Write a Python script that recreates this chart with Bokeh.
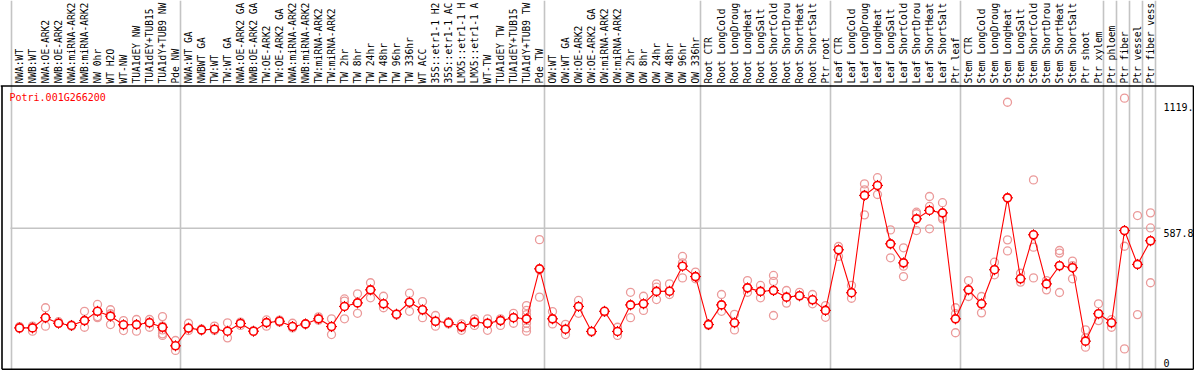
import math
from bokeh.plotting import figure
from bokeh.models import Range1d
from bokeh.core.properties import value
from bokeh.embed import file_html
from bokeh.resources import INLINE

title_text = "Potri.001G266200"

categories = [
    "NWA:WT", "NWB:WT", "NWA:OE-ARK2", "NWB:OE-ARK2", "NWA:miRNA-ARK2", "NWB:miRNA-ARK2",
    "NW 0hr", "WT H2O", "WT-NW", "TUA1dEY NW", "TUA1dEY+TUB15", "TUA1dY+TUB9 NW", "Pde NW",
    "NWA:WT GA", "NWBWT GA", "TW:WT", "TW:WT GA", "NWA:OE-ARK2 GA", "NWB:OE-ARK2 GA",
    "TW:OE-ARK2", "TW:OE-ARK2 GA", "NWA:miRNA-ARK2", "NWB:miRNA-ARK2", "TW:miRNA-ARK2",
    "TW:miRNA-ARK2", "TW 2hr", "TW 8hr", "TW 24hr", "TW 48hr", "TW 96hr", "TW 336hr",
    "WT ACC", "35S::etr1-1 H2", "35S::etr1-1 AC", "LMX5::etr1-1 H", "LMX5::etr1-1 A",
    "WT-TW", "TUA1dEY TW", "TUA1dEY+TUB15", "TUA1dY+TUB9 TW", "Pde TW",
    "OW:WT", "OW:WT GA", "OW:OE-ARK2", "OW:OE-ARK2 GA", "OW:miRNA-ARK2", "OW:miRNA-ARK2",
    "OW 2hr", "OW 8hr", "OW 24hr", "OW 48hr", "OW 96hr", "OW 336hr",
    "Root CTR", "Root LongCold", "Root LongDroug", "Root LongHeat", "Root LongSalt",
    "Root ShortCold", "Root ShortDrou", "Root ShortHeat", "Root ShortSalt", "Ptr root",
    "Leaf CTR", "Leaf LongCold", "Leaf LongDroug", "Leaf LongHeat", "Leaf LongSalt",
    "Leaf ShortCold", "Leaf ShortDrou", "Leaf ShortHeat", "Leaf ShortSalt", "Ptr leaf",
    "Stem CTR", "Stem LongCold", "Stem LongDroug", "Stem LongHeat", "Stem LongSalt",
    "Stem ShortCold", "Stem ShortDrou", "Stem ShortHeat", "Stem ShortSalt", "Ptr shoot",
    "Ptr xylem", "Ptr phloem", "Ptr fiber", "Ptr vessel", "Ptr fiber vess",
]

group_sizes = [13, 28, 12, 10, 10, 11, 1, 1, 1, 1]

means = [
    137, 137, 183, 158, 148, 170, 212, 190, 151, 152, 160, 140, 56,
    136, 128, 131, 122, 157, 122, 161, 167, 143, 155, 178, 143, 234, 250, 309, 246, 199,
    253, 219, 167, 160, 143, 163, 158, 170, 183, 178, 404,
    178, 131, 234, 121, 212, 121, 241, 246, 302, 303, 416, 369,
    152, 241, 160, 318, 302, 306, 276, 282, 264, 216,
    490, 296, 736, 781, 517, 431, 630, 668, 657, 178,
    309, 246, 400, 725, 359, 558, 336, 418, 409, 77, 201,
    160, 577, 424, 531,
]

replicates = [
    [143, 135], [145, 122], [228, 183, 145], [158, 165], [150, 145], [212, 170, 140],
    [243, 212, 188, 183], [219, 201, 152], [170, 125], [175, 122], [175, 163, 140],
    [188, 145, 128, 110, 103], [80, 35],
    [158, 125], [125, 132], [145, 125], [160, 92], [163, 148], [125, 120], [173, 145],
    [172, 163], [158, 137], [155, 152], [187, 172], [178, 107], [268, 258, 178],
    [291, 250, 203], [341, 309, 273], [280, 246, 228], [199, 195], [294, 253, 212],
    [256, 219, 183], [193, 167, 145], [165, 155], [155, 138, 126], [178, 163, 148],
    [178, 158, 126], [178, 170, 148], [203, 183, 158],
    [238, 216, 197, 178, 158, 137, 122], [536, 400, 276],
    [211, 178, 155], [153, 131, 107], [261, 234, 203], [121, 118], [212, 208], [140, 103],
    [298, 241, 183], [280, 246, 216], [336, 321, 302, 265], [336, 303, 288],
    [460, 431, 363], [389, 369, 359],
    [155, 148], [288, 241, 212], [198, 160, 128], [351, 318, 298], [329, 302, 273],
    [374, 347, 306, 193], [306, 276, 249], [298, 282], [288, 264, 246], [238, 216, 185],
    [505, 490, 460], [329, 296, 271], [788, 761, 736, 648], [816, 781, 740],
    [580, 517, 454], [499, 431, 416, 369], [660, 653, 577], [731, 686, 585],
    [703, 637, 630], [228, 201, 115],
    [351, 279], [279, 246, 205], [434, 400, 377], [1157, 725, 535, 485], [384, 359, 344],
    [806, 558, 502, 363], [351, 336, 309], [487, 475, 418, 297], [439, 418, 409, 359],
    [128, 92, 77, 50], [246, 201, 170],
    [174, 160, 140], [1175.6, 577, 506, 42], [645, 424, 197], [657, 589, 531, 341],
]

grid_value = 587.8
tick_labels = ["1119.", "587.8", "0"]

# ---- layout constants (screen pixels -> data coordinates) ----
X0, BAND, Y0, K = 11.0, 13.0, 357.7, 0.2212
OFF = 8.0 / 13.0


def px2x(px):
    return (px - X0) / BAND


def py2y(py):
    return (Y0 - py) / K


W, H = 1194, 370
p = figure(width=W, height=H, x_range=Range1d(px2x(0), px2x(W)),
           y_range=Range1d(py2y(H), py2y(0)), output_backend="svg",
           toolbar_location=None, x_axis_type=None, y_axis_type=None,
           min_border=0, outline_line_color=None)
p.grid.visible = False
p.background_fill_color = "white"
p.border_fill_color = "white"

n = len(categories)
xs = [i + OFF for i in range(n)]

# group separators
bounds = [0]
for g in group_sizes:
    bounds.append(bounds[-1] + g)
p.segment(x0=bounds, y0=[py2y(0)] * len(bounds), x1=bounds, y1=[py2y(369)] * len(bounds),
          line_color="#c4c4c4", line_width=1.6)

# horizontal gridline
p.segment(x0=[px2x(10)], y0=[grid_value], x1=[px2x(1160)], y1=[grid_value],
          line_color="#c4c4c4", line_width=1.6)

# black frame
fx0, fx1 = px2x(1.5), px2x(1193)
fy0, fy1 = py2y(85.5), py2y(368.8)
p.segment(x0=[px2x(0), fx0, fx1, fx0], y0=[fy0, fy0, fy0, fy1],
          x1=[fx1, fx0, fx1, fx1], y1=[fy0, fy1, fy1, fy1],
          line_color="black", line_width=1.6)

# replicates
rx, ry = [], []
for i, reps in enumerate(replicates):
    for v in reps:
        rx.append(xs[i])
        ry.append(v)
p.scatter(rx, ry, marker="circle", size=8, fill_color=None,
          line_color="#eb9a9a", line_width=1.3)

# mean line and markers
p.line(xs, means, line_color="red", line_width=1.1)
p.scatter(xs, means, marker="cross", size=11, line_color="#cc0000", line_width=1.0)
p.scatter(xs, means, marker="circle", size=8, fill_color="white",
          line_color="red", line_width=1.6)

font = value("DejaVu Sans Mono")

# category labels (rotated)
p.text(x=xs, y=[py2y(83)] * n, text=categories, angle=math.pi / 2,
       text_align="left", text_baseline="middle", text_font=font,
       text_font_size="9.6px", text_color="black")

# title
p.text(x=[px2x(9)], y=[py2y(97)], text=[title_text], text_align="left",
       text_baseline="middle", text_font=font, text_font_size="10px",
       text_color="red")

# value labels
p.text(x=[px2x(1163)] * 3, y=[py2y(106.7), py2y(232.3), py2y(362.3)], text=tick_labels,
       text_align="left", text_baseline="middle", text_font=font,
       text_font_size="10px", text_color="black")

open("out.html", "w").write(file_html(p, INLINE))
